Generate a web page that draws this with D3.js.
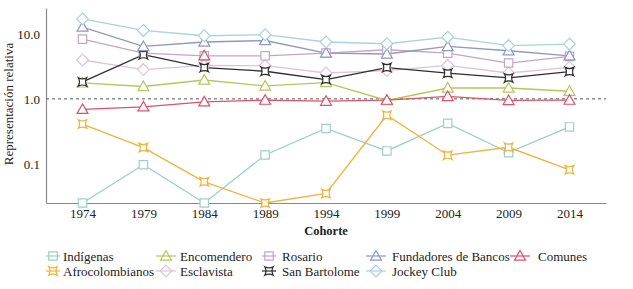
<!DOCTYPE html>
<html>
<head>
<meta charset="utf-8">
<script src="https://cdn.jsdelivr.net/npm/d3@7"></script>
<style>
  body { margin: 0; background: #fff; }
</style>
</head>
<body>
<div id="chart"></div>
<script>
// cohort years and relative representation per group (log scale)
const years = [1974, 1979, 1984, 1989, 1994, 1999, 2004, 2009, 2014];

const indigenas      = [0.025, 0.097, 0.025, 0.137, 0.35, 0.158, 0.42, 0.149, 0.37];
const afro           = [0.41, 0.178, 0.053, 0.025, 0.035, 0.56, 0.136, 0.18, 0.081];
const encomendero    = [1.76, 1.55, 1.95, 1.58, 1.78, 0.945, 1.47, 1.47, 1.31];
const esclavista     = [3.96, 2.82, 3.28, 3.25, 2.5, 2.72, 3.28, 2.5, 3.06];
const rosario        = [8.3, 5.06, 4.6, 4.6, 5.06, 5.7, 5.06, 3.56, 4.5];
const sanBartolome   = [1.82, 4.78, 3.03, 2.66, 1.98, 3.03, 2.48, 2.1, 2.63];
const fundadores     = [12.7, 6.4, 7.5, 7.9, 5.06, 4.9, 6.4, 5.5, 4.6];
const jockeyClub     = [17, 11.3, 9.35, 9.7, 7.5, 7.05, 8.9, 6.6, 6.95];
const comunes        = [0.69, 0.755, 0.9, 0.955, 0.92, 0.955, 1.09, 0.945, 0.955];

const yTicks = [0.1, 1, 10];

const series = [
  {name: "Indígenas",            values: indigenas,    color: "#9ccfc8", shape: "square"},
  {name: "Afrocolombianos",      values: afro,         color: "#efb23a", shape: "star"},
  {name: "Encomendero",          values: encomendero,  color: "#b7c65a", shape: "triangle"},
  {name: "Esclavista",           values: esclavista,   color: "#dcc5da", shape: "diamond"},
  {name: "Rosario",              values: rosario,      color: "#c4a4c8", shape: "square"},
  {name: "San Bartolome",        values: sanBartolome, color: "#2e2e2e", shape: "star"},
  {name: "Fundadores de Bancos", values: fundadores,   color: "#8f97c6", shape: "triangle"},
  {name: "Jockey Club",          values: jockeyClub,   color: "#a9d3d9", shape: "diamond"},
  {name: "Comunes",              values: comunes,      color: "#e0506a", shape: "triangle"}
];

// stray marker in the original figure (red triangle on the Rosario line, 1984)
const strayMarks = [{series: "Comunes", year: 1984, value: 4.6}];

const width = 633, height = 289;
const svg = d3.select("#chart").append("svg")
  .attr("width", width)
  .attr("height", height);

const x = d3.scaleLinear().domain([1971, 2017]).range([46, 606]);
const y = d3.scaleLog().domain([0.025, 25]).range([203, 8]);

function shapePath(shape, s) {
  if (shape === "square") {
    return `M${-s},${-s}H${s}V${s}H${-s}Z`;
  } else if (shape === "triangle") {
    let h = s * 1.3;
    return `M0,${-h}L${h},${h * 0.75}L${-h},${h * 0.75}Z`;
  } else if (shape === "diamond") {
    let d = s * 1.4;
    return `M0,${-d}L${d},0L0,${d}L${-d},0Z`;
  } else {
    // square with pinched sides
    let k = s * 0.45;
    return `M${-s},${-s}Q0,${-k} ${s},${-s}Q${k},0 ${s},${s}Q0,${k} ${-s},${s}Q${-k},0 ${-s},${-s}Z`;
  }
}

const serif = "Liberation Serif";

// axes
const xAxis = d3.axisBottom(x).tickValues(years).tickSize(0).tickPadding(6).tickFormat(d3.format("d"));
const yAxis = d3.axisLeft(y).tickValues(yTicks).tickSize(0).tickPadding(6).tickFormat(d3.format(".1f"));

svg.append("g")
  .attr("class", "x-axis")
  .attr("transform", "translate(0,203)")
  .call(xAxis);

svg.append("g")
  .attr("class", "y-axis")
  .attr("transform", "translate(46,0)")
  .call(yAxis);

svg.selectAll(".x-axis, .y-axis").attr("font-family", serif);
svg.selectAll(".x-axis path, .y-axis path")
  .attr("stroke", "#8a8a8a")
  .attr("stroke-width", 1.2);
svg.selectAll(".x-axis text, .y-axis text")
  .attr("font-family", serif)
  .attr("font-size", 13)
  .attr("fill", "#222");

// reference line at 1.0
svg.append("line")
  .attr("x1", x(1971)).attr("x2", x(2017))
  .attr("y1", y(1)).attr("y2", y(1))
  .attr("stroke", "#555")
  .attr("stroke-width", 1)
  .attr("stroke-dasharray", "3,3");

// lines
const line = d3.line()
  .x((d, i) => x(years[i]))
  .y(d => y(d));

svg.selectAll(".series-line")
  .data(series)
  .enter()
  .append("path")
  .attr("class", "series-line")
  .attr("fill", "none")
  .attr("stroke", d => d.color)
  .attr("stroke-width", 1.3)
  .attr("d", d => line(d.values));

// markers
series.forEach(s => {
  svg.selectAll(null)
    .data(s.values)
    .enter()
    .append("path")
    .attr("transform", (d, i) => `translate(${x(years[i])},${y(d)})`)
    .attr("d", shapePath(s.shape, 4.2))
    .attr("fill", "#fff")
    .attr("stroke", s.color)
    .attr("stroke-width", 1.2);
});

svg.selectAll(".stray")
  .data(strayMarks)
  .enter()
  .append("path")
  .attr("class", "stray")
  .attr("transform", d => `translate(${x(d.year)},${y(d.value)})`)
  .attr("d", d => shapePath(series.find(s => s.name === d.series).shape, 4.2))
  .attr("fill", "#fff")
  .attr("stroke", d => series.find(s => s.name === d.series).color)
  .attr("stroke-width", 1.2);

// axis titles
svg.append("text")
  .attr("transform", "rotate(-90)")
  .attr("x", -104)
  .attr("y", 13)
  .attr("text-anchor", "middle")
  .attr("font-family", serif)
  .attr("font-size", 13)
  .attr("fill", "#222")
  .text("Representación relativa");

svg.append("text")
  .attr("x", 326)
  .attr("y", 235)
  .attr("text-anchor", "middle")
  .attr("font-family", serif)
  .attr("font-size", 12.5)
  .attr("font-weight", "bold")
  .attr("fill", "#222")
  .text("Cohorte");

// legend: 5 columns, 2 rows, filled column by column
const legendCols = [
  {sx: 53, tx: 63},
  {sx: 166, tx: 180},
  {sx: 269, tx: 282},
  {sx: 376, tx: 392},
  {sx: 520, tx: 538}
];
const legendRows = [256, 271];

const legend = svg.append("g").attr("class", "legend");
series.forEach((s, i) => {
  let col = legendCols[Math.floor(i / 2)];
  let ry = legendRows[i % 2];
  let g = legend.append("g").attr("transform", `translate(0,${ry})`);
  let half = (s.shape === "triangle" || s.shape === "diamond") ? 10 : 7;
  g.append("line")
    .attr("x1", col.sx - half).attr("x2", col.sx + half)
    .attr("y1", 0).attr("y2", 0)
    .attr("stroke", s.color)
    .attr("stroke-width", 1.2);
  g.append("path")
    .attr("transform", `translate(${col.sx},0)`)
    .attr("d", shapePath(s.shape, 4.2))
    .attr("fill", "none")
    .attr("stroke", s.color)
    .attr("stroke-width", 1.2);
  g.append("text")
    .attr("x", col.tx)
    .attr("y", 4.5)
    .attr("font-family", serif)
    .attr("font-size", 13)
    .attr("fill", "#222")
    .text(s.name);
});
</script>
</body>
</html>
